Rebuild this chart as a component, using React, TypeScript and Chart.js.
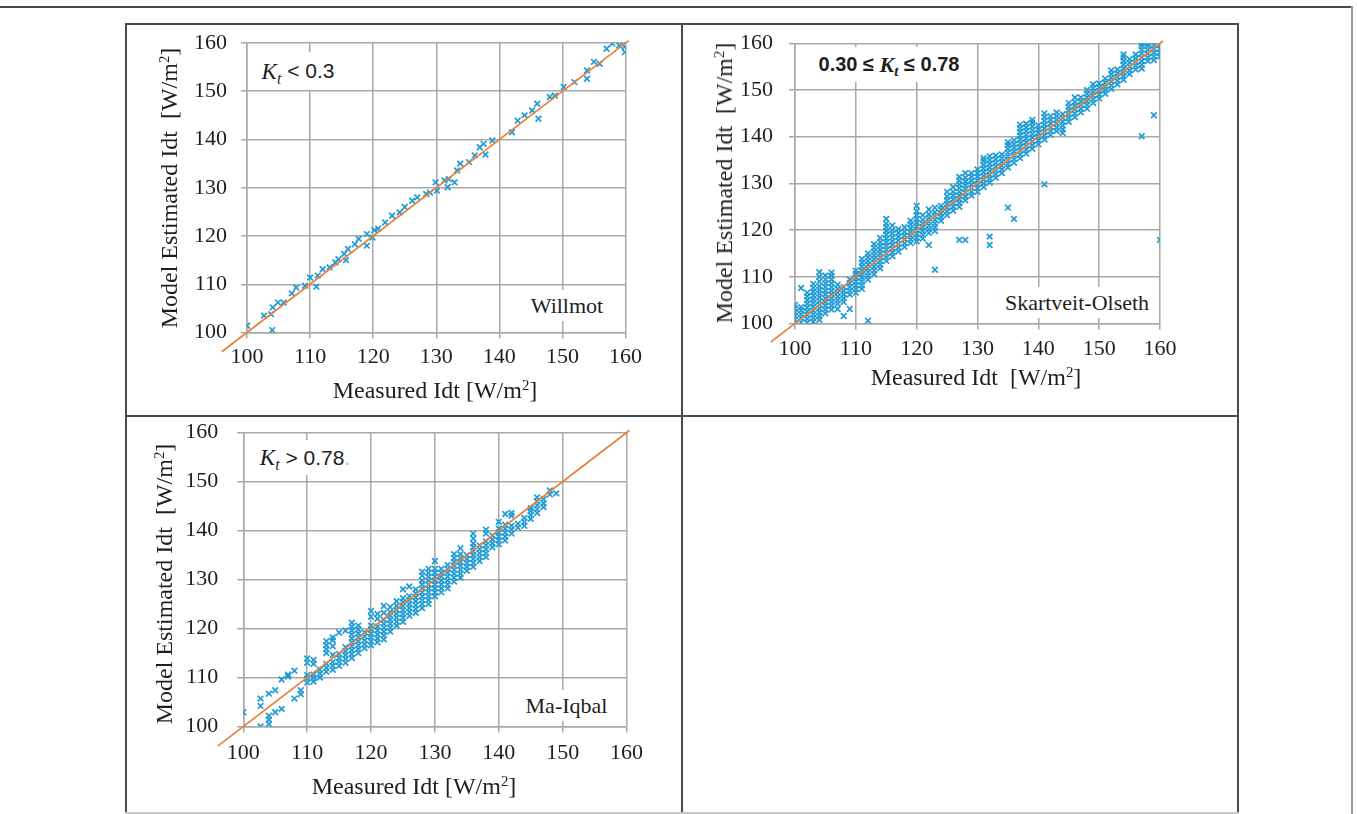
import React, { useEffect, useRef } from 'react';
import { Chart, registerables } from 'chart.js';

Chart.register(...registerables);

// ---- shared axis settings ----
const AXIS_MIN = 100;
const AXIS_MAX = 160;
const TICK_VALUES = [100, 110, 120, 130, 140, 150, 160];
const ONE_TO_ONE = [96, 160.5]; // 1:1 reference line end values

// ---- Willmot (Kt < 0.3) ----
const willmotMeasured = [100, 102.7, 103.8, 104.1, 104, 104.9, 105.8, 107.1, 107.8, 109.2, 110, 111, 111.2, 112, 113.1, 114, 114.5, 115.7, 115.4, 116, 117.1, 117.7, 119, 119, 119.9, 120.2, 120.8, 121.9, 123, 124.2, 125, 126.2, 127, 128.4, 129, 129.9, 130.1, 131.3, 131.8, 132, 132.9, 133.3, 133.8, 135.2, 136.1, 136.9, 137.5, 137.8, 138.9, 142, 142.9, 144, 145.2, 146, 146.2, 148, 148.8, 150.2, 151.9, 153.9, 153.9, 155, 155.9, 157, 157.9, 159, 159.9, 159.9];
const willmotModel = [101.4, 103.5, 103.8, 105.2, 100.5, 106.2, 106.2, 108.1, 109.3, 109.7, 111.4, 109.5, 111.8, 113.1, 113.5, 114.5, 115.2, 115, 116.3, 117.3, 118.3, 119.4, 118, 120.4, 119.7, 121.2, 121.5, 122.8, 124.2, 124.9, 126, 127.3, 128, 128.7, 129, 131.1, 129.4, 131.5, 130.1, 131.8, 131.1, 133.6, 135, 135.3, 136.7, 138.4, 139.1, 136.9, 139.8, 141.5, 143.9, 145, 146, 147.4, 144.3, 148.8, 149.1, 150.9, 151.9, 154.3, 152.6, 156.1, 155.7, 158.8, 159.9, 159.5, 159.2, 158.1];

// ---- Skartveit-Olseth (0.30 <= Kt <= 0.78): model values grouped by measured value ----
const skartveitMeasured = [100, 101, 102, 103, 104, 105, 106, 107, 108, 109, 110, 111, 112, 113, 114, 115, 116, 117, 118, 119, 120, 121, 122, 123, 124, 125, 126, 127, 128, 129, 130, 131, 132, 133, 134, 135, 136, 137, 138, 139, 140, 141, 142, 143, 144, 145, 146, 147, 148, 149, 150, 151, 152, 153, 154, 155, 156, 157, 158, 159, 160];
const skartveitModel = [
  [100, 100.8, 101.6, 102.4, 103.2, 104],
  [100.3, 101.2, 102, 102.8, 103.5, 107.6],
  [100.2, 101, 101.8, 102.6, 103.4, 104.2, 105, 105.8, 106.6],
  [100.4, 101.2, 102, 102.8, 103.6, 104.4, 105.2, 106, 106.8, 107.6, 108.5],
  [100.8, 101.6, 102.4, 103.2, 104, 104.8, 105.6, 106.4, 107.2, 108, 109, 110, 111],
  [102.2, 103, 103.8, 104.6, 105.4, 106.2, 107, 107.8, 108.6, 109.4, 110.3],
  [103, 103.8, 104.6, 105.4, 106.2, 107, 107.8, 108.6, 109.4, 110.2, 110.9],
  [103.1, 104.2, 105, 105.8, 106.6, 107.4, 108.3],
  [101.6, 104.6, 105.4, 106.2, 107, 107.8],
  [103.1, 106.2, 107, 107.8, 108.6, 109.4],
  [106.6, 107.4, 108.2, 109, 109.8, 110.6, 111.3],
  [107.4, 108.2, 109, 109.8, 110.6, 111.4, 112.2, 113, 113.8],
  [100.6, 109.4, 110.2, 111, 111.8, 112.6, 113.4, 114.2, 115],
  [110.6, 111.4, 112.2, 113, 113.8, 114.6, 115.4, 116.2, 117],
  [111.8, 112.6, 113.4, 114.2, 115, 115.8, 116.6, 117.4, 118.3],
  [113.4, 114.2, 115, 115.8, 116.6, 117.4, 118.2, 119, 119.8, 120.6, 121.4, 122.4],
  [114.4, 115.2, 116, 116.8, 117.6, 118.4, 119.2, 120, 121],
  [115.4, 116.2, 117, 117.8, 118.6, 119.4, 120.2],
  [116.4, 117.2, 118, 118.8, 119.6, 120.6],
  [117.2, 118, 118.8, 119.6, 120.4, 121.2, 122],
  [117.6, 118.4, 119.2, 120, 120.8, 121.6, 122.4, 123.2, 124, 125.2],
  [118.2, 119, 119.8, 120.6, 121.4, 122.2, 123.2],
  [116.8, 119.4, 120.2, 121, 121.8, 122.6, 123.4, 124.4],
  [111.5, 119.8, 120.6, 121.4, 122.2, 123, 123.8, 124.8],
  [122, 122.8, 123.6, 124.4, 125.2],
  [123.2, 124, 124.8, 125.6, 126.4, 127.2, 128.2],
  [124.2, 125, 125.8, 126.6, 127.4, 128.2, 129.2],
  [117.9, 125, 125.8, 126.6, 127.4, 128.2, 129, 129.8, 130.6, 131.4],
  [117.9, 126.4, 127.2, 128, 128.8, 129.6, 130.4, 131.2, 132.2],
  [127.4, 128.2, 129, 129.8, 130.6, 131.4, 132.2],
  [128.2, 129, 129.8, 130.6, 131.4, 132.2, 133],
  [129.2, 130, 130.8, 131.6, 132.4, 133.2, 134, 134.8, 135.4],
  [116.8, 118.6, 130.2, 131, 131.8, 132.6, 133.4, 134.2, 135, 135.8],
  [131.2, 132, 132.8, 133.6, 134.4, 135.2, 136],
  [132.2, 133, 133.8, 134.6, 135.4, 136.2],
  [124.8, 133.4, 134.2, 135, 135.8, 136.6, 137.4, 138.2, 138.8],
  [122.4, 134.4, 135.2, 136, 136.8, 137.6, 138.4, 139.2],
  [135.4, 136.2, 137, 137.8, 138.6, 139.4, 140.2, 141, 141.8, 142.6],
  [136.4, 137.2, 138, 138.8, 139.6, 140.4, 141.2, 142, 142.8],
  [137.4, 138.2, 139, 139.8, 140.6, 141.4, 142.2, 143, 143.6],
  [138.4, 139.2, 140, 140.8, 141.6, 142.4],
  [129.8, 139.4, 140.2, 141, 141.8, 142.6, 143.4, 144.2, 145],
  [140.4, 141.2, 142, 142.8, 143.6, 144.4],
  [141.2, 142, 142.8, 143.6, 144.4, 145.2],
  [140.8, 141.6, 142.4, 143.2, 144, 144.8],
  [143.2, 144, 144.8, 145.6, 146.4, 147.2],
  [144.2, 145, 145.8, 146.6, 147.4, 148.4],
  [145.2, 146, 146.8, 147.6, 148.4],
  [146, 146.8, 147.6, 148.4, 149.2, 150],
  [147.2, 148, 148.8, 149.6, 150.4, 151.2],
  [148.2, 149, 149.8, 150.6, 151.4],
  [149.2, 150, 150.8, 151.6, 152.4],
  [150.2, 151, 151.8, 152.6, 153.4, 154.2],
  [151.2, 152, 152.8, 153.6, 154.4],
  [152.2, 153, 153.8, 154.6, 155.4, 156.2, 157, 157.6],
  [153.4, 154.2, 155, 155.8, 156.6],
  [154.4, 155.2, 156, 156.8, 157.6],
  [140.1, 154.6, 155.4, 156.2, 157, 157.8, 158.6, 159.4, 160],
  [156.2, 157, 157.8, 158.6, 159.4, 160],
  [144.6, 156.4, 157.2, 158, 158.8, 159.6],
  [117.9, 157.2, 158, 158.8, 159.6],
];

// ---- Ma-Iqbal (Kt > 0.78): model values grouped by measured value ----
const maIqbalMeasured = [100, 102.7, 104, 105, 106, 107, 108, 109, 110, 111, 112, 113, 114, 115, 116, 117, 118, 119, 120, 121, 122, 123, 124, 125, 126, 127, 128, 129, 130, 131, 132, 133, 134, 135, 136, 137, 138, 139, 140, 141, 142, 143, 144, 145, 146, 147, 148, 149];
const maIqbalModel = [
  [102.9],
  [100, 104.2, 105.7],
  [100.5, 101.4, 102.2, 106.7],
  [102.9, 107.4],
  [103.6, 109.6],
  [110.2, 110.6],
  [105.7, 111.4],
  [106.6, 107.4],
  [109, 109.8, 110.5, 113, 113.9],
  [109.2, 109.9, 110.6, 112.8, 113.6],
  [110, 110.8, 111.6],
  [111.2, 112, 112.8, 115, 115.8, 116.6, 117.4],
  [111.6, 112.4, 113.2, 114.6, 116.4, 117.6, 118.2],
  [112.4, 113.2, 114, 114.8, 119.2],
  [113, 113.8, 114.6, 115.4, 116.2, 119.6],
  [114, 114.8, 115.6, 116.4, 117.2, 118, 118.8, 119.6, 120.4, 121.2],
  [115, 115.8, 116.6, 117.4, 118.2, 119, 119.8, 120.6],
  [116, 116.8, 117.6, 118.4, 119.2],
  [116.6, 117.4, 118.2, 119, 119.8, 120.6, 122.4, 123.6],
  [117.2, 118, 118.8, 119.6, 120.4, 122, 123],
  [117.8, 118.6, 119.4, 120.2, 121, 121.8, 123.2, 124.6],
  [119.4, 120.2, 121, 121.8, 122.6, 123.4, 124.4],
  [120.6, 121.4, 122.2, 123, 123.8, 124.6, 125.6],
  [121.4, 122.2, 123, 123.8, 124.6, 125.4, 126.2, 128],
  [122.6, 123.4, 124.2, 125, 125.8, 126.6, 128.6],
  [123.2, 124, 124.8, 125.6, 126.4, 127.2, 128],
  [124.2, 125, 125.8, 126.6, 127.4, 128.2, 129, 129.8, 130.8, 131.6],
  [125, 125.8, 126.6, 127.4, 128.2, 129, 129.8, 130.6, 131.4, 132.2],
  [126.6, 127.4, 128.2, 129, 129.8, 130.6, 131.4, 132.2, 133.8],
  [127.4, 128.2, 129, 129.8, 130.6, 131.4, 132.2],
  [128.2, 129, 129.8, 130.6, 131.4, 132.2, 133],
  [129.6, 130.4, 131.2, 132, 132.8, 133.6, 134.4, 135.2],
  [130.4, 131.2, 132, 132.8, 133.6, 134.4, 135.2, 136.4],
  [131.8, 132.6, 133.4, 134.2, 135],
  [132.6, 133.4, 134.2, 135, 135.8, 136.6, 137.4, 138.4, 139.4],
  [133.8, 134.6, 135.4, 136.2, 137],
  [134.6, 135.4, 136.2, 137, 137.8, 139.4, 140.2],
  [136.6, 137.4, 138.2, 139],
  [137.2, 138, 138.8, 139.6, 140.4, 141.8],
  [138, 138.8, 139.6, 140.4, 141.2, 143.4],
  [139.4, 140.2, 141, 143, 143.6],
  [140.6, 141.4],
  [141, 141.8, 142.6],
  [142.4, 143.2, 144, 144.6],
  [143.6, 144.4, 145.2, 146, 146.8],
  [144.8, 145.6, 146.4],
  [147.4, 148.2],
  [147.6],
];

// ---- styling ----
const POINT_BLUE = '#1f9bd5';
const LINE_ORANGE = '#e8803c';
const GRID_GREY = '#a8a8a8';
const TEXT_DARK = '#1e1e1e';
const RULE_DARK = '#4a4a4a';
const SERIF = "'Liberation Serif', 'Times New Roman', serif";
const SANS = "'Liberation Sans', Arial, sans-serif";

type Pt = { x: number; y: number };
const pairs = (xs: number[], ys: number[]): Pt[] => xs.map((x, i) => ({ x, y: ys[i] }));
const columns = (xs: number[], ys: number[][]): Pt[] => xs.flatMap((x, i) => ys[i].map((y) => ({ x, y })));

type PanelSpec = {
  key: string;
  left: number;
  top: number;
  width: number;
  height: number;
  yAxisW: number;
  xAxisH: number;
  padTop: number;
  padRight: number;
  yTickPad: number;
  xTickPad: number;
  points: Pt[];
};

const PANELS: PanelSpec[] = [
  { key: 'willmot', left: 126, top: 24, width: 556, height: 391, yAxisW: 121, xAxisH: 82.5, padTop: 19, padRight: 56.5, yTickPad: 14, xTickPad: 6, points: pairs(willmotMeasured, willmotModel) },
  { key: 'skartveit', left: 682, top: 24, width: 556, height: 391, yAxisW: 113, xAxisH: 91.5, padTop: 19.3, padRight: 78, yTickPad: 16, xTickPad: 7, points: columns(skartveitMeasured, skartveitModel) },
  { key: 'maiqbal', left: 126, top: 415, width: 556, height: 399, yAxisW: 117.3, xAxisH: 87.5, padTop: 17.7, padRight: 55.5, yTickPad: 19, xTickPad: 8, points: columns(maIqbalMeasured, maIqbalModel) },
];

function axisOptions(spec: PanelSpec, vertical: boolean) {
  return {
    type: 'linear' as const,
    min: AXIS_MIN,
    max: AXIS_MAX,
    afterBuildTicks: (scale: any) => {
      scale.ticks = TICK_VALUES.map((value) => ({ value }));
    },
    afterFit: (scale: any) => {
      if (vertical) scale.width = spec.yAxisW;
      else scale.height = spec.xAxisH;
      // plot-area edges are fixed by the layout padding and axis sizes above
      scale.paddingTop = 0;
      scale.paddingBottom = 0;
      scale.paddingLeft = 0;
      scale.paddingRight = 0;
    },
    ticks: {
      font: { family: SERIF, size: 22 },
      color: TEXT_DARK,
      padding: vertical ? spec.yTickPad : spec.xTickPad,
      maxRotation: 0,
      autoSkip: false,
    },
    grid: { color: GRID_GREY, lineWidth: 1.5, tickLength: 6, tickColor: GRID_GREY },
    border: { color: GRID_GREY, width: 1.5 },
  };
}

function ScatterPanel({ spec }: { spec: PanelSpec }) {
  const canvasRef = useRef<HTMLCanvasElement>(null);
  useEffect(() => {
    const canvas = canvasRef.current;
    if (!canvas) return;
    const chart = new Chart(canvas, {
      type: 'scatter',
      data: {
        datasets: [
          {
            type: 'line',
            data: [
              { x: ONE_TO_ONE[0], y: ONE_TO_ONE[0] },
              { x: ONE_TO_ONE[1], y: ONE_TO_ONE[1] },
            ],
            borderColor: LINE_ORANGE,
            borderWidth: 1.7,
            pointRadius: 0,
            clip: false,
            order: 0,
          } as any,
          {
            type: 'scatter',
            data: spec.points,
            pointStyle: 'crossRot',
            pointRadius: 4,
            borderColor: POINT_BLUE,
            backgroundColor: POINT_BLUE,
            borderWidth: 1.7,
            order: 1,
          } as any,
        ],
      },
      options: {
        animation: false,
        responsive: false,
        devicePixelRatio: 1,
        events: [],
        layout: { padding: { top: spec.padTop, right: spec.padRight, left: 0, bottom: 0 } },
        plugins: { legend: { display: false }, tooltip: { enabled: false } },
        scales: {
          x: axisOptions(spec, false),
          y: axisOptions(spec, true),
        },
      } as any,
    });
    return () => chart.destroy();
  }, [spec]);
  return (
    <canvas
      ref={canvasRef}
      width={spec.width}
      height={spec.height}
      style={{ position: 'absolute', left: spec.left, top: spec.top, width: spec.width, height: spec.height }}
    />
  );
}

function Rule({ left, top, width, height, color = RULE_DARK }: { left: number; top: number; width: number; height: number; color?: string }) {
  return <div style={{ position: 'absolute', left, top, width, height, background: color }} />;
}

function Boxed({ left, top, width, height, children, style }: any) {
  return (
    <div
      style={{
        position: 'absolute', left, top, width, height, background: '#fff',
        display: 'flex', alignItems: 'center', justifyContent: 'center',
        whiteSpace: 'nowrap', color: TEXT_DARK, ...style,
      }}
    >
      {children}
    </div>
  );
}

const unit = (
  <span>
    [W/m<sup style={{ fontSize: '0.62em', verticalAlign: '0.55em', lineHeight: 0 }}>2</sup>]
  </span>
);

function XTitle({ cx, cy, gap }: { cx: number; cy: number; gap?: boolean }) {
  return (
    <div style={{ position: 'absolute', left: cx, top: cy, transform: 'translate(-50%, -50%)', whiteSpace: 'nowrap', fontFamily: SERIF, fontSize: 24, lineHeight: '28px', color: TEXT_DARK }}>
      Measured Idt{gap ? '\u00a0\u00a0' : ' '}{unit}
    </div>
  );
}

function YTitle({ cx, cy }: { cx: number; cy: number }) {
  return (
    <div style={{ position: 'absolute', left: cx, top: cy, transform: 'translate(-50%, -50%) rotate(-90deg)', whiteSpace: 'nowrap', fontFamily: SERIF, fontSize: 24, lineHeight: '28px', color: TEXT_DARK }}>
      Model Estimated Idt{'\u00a0\u00a0'}{unit}
    </div>
  );
}

const kt = (
  <span style={{ fontFamily: SERIF, fontStyle: 'italic', fontSize: '1.1em' }}>
    K<sub style={{ fontSize: '0.68em', verticalAlign: '-0.3em', lineHeight: 0 }}>t</sub>
  </span>
);

export default function App() {
  return (
    <div style={{ position: 'absolute', left: 0, top: 0, width: 1357, height: 814, background: '#fff', overflow: 'hidden' }}>
      {PANELS.map((p) => (
        <ScatterPanel key={p.key} spec={p} />
      ))}

      {/* panel annotations */}
      <Boxed left={252} top={52} width={92} height={38} style={{ fontFamily: SANS, fontSize: 21 }}>
        {kt}
        <span>&nbsp;&lt; 0.3</span>
      </Boxed>
      <Boxed left={806} top={47} width={166} height={35} style={{ fontFamily: SANS, fontSize: 20, fontWeight: 'bold' }}>
        <span>0.30 ≤&nbsp;</span>
        {kt}
        <span>&nbsp;≤ 0.78</span>
      </Boxed>
      <Boxed left={252} top={440} width={106} height={35} style={{ fontFamily: SANS, fontSize: 21 }}>
        {kt}
        <span>&nbsp;&gt; 0.78</span>
        <span style={{ color: '#bbb' }}>.</span>
      </Boxed>
      <Boxed left={522} top={290} width={90} height={31} style={{ fontFamily: SERIF, fontSize: 22 }}>
        Willmot
      </Boxed>
      <Boxed left={996} top={287} width={162} height={31} style={{ fontFamily: SERIF, fontSize: 22 }}>
        Skartveit-Olseth
      </Boxed>
      <Boxed left={515} top={690} width={103} height={31} style={{ fontFamily: SERIF, fontSize: 22 }}>
        Ma-Iqbal
      </Boxed>

      {/* axis titles */}
      <XTitle cx={435} cy={390} />
      <YTitle cx={169} cy={188} />
      <XTitle cx={976} cy={377} gap />
      <YTitle cx={724} cy={183} />
      <XTitle cx={414} cy={786} />
      <YTitle cx={164} cy={584} />

      {/* table rules */}
      <Rule left={0} top={6} width={1352} height={1.5} />
      <Rule left={1351} top={6} width={1.5} height={808} color="#9a9a9a" />
      <Rule left={125} top={23} width={1114} height={2} />
      <Rule left={125} top={23} width={2} height={791} />
      <Rule left={681} top={23} width={2} height={791} />
      <Rule left={1237} top={23} width={2} height={791} />
      <Rule left={125} top={414.5} width={1114} height={2} />
      <Rule left={125} top={812} width={1114} height={1.5} color="#c8c8c8" />
    </div>
  );
}
